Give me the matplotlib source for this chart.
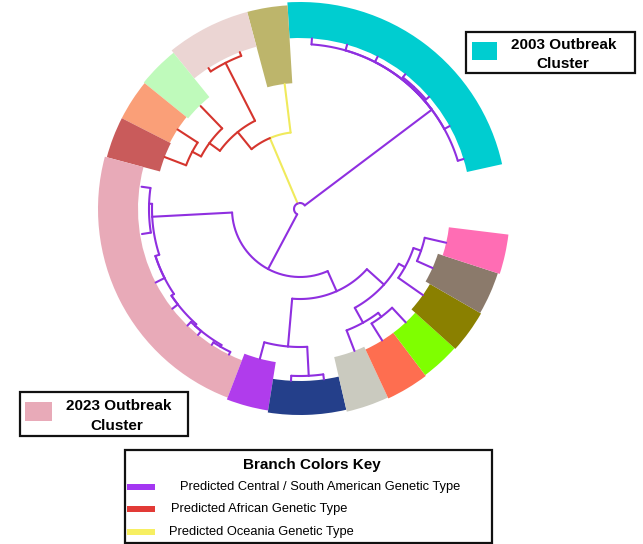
import numpy as np
import matplotlib
matplotlib.use("Agg")
import matplotlib.pyplot as plt
from matplotlib.patches import Rectangle

plt.rcParams['font.family'] = ['Liberation Sans', 'DejaVu Sans']

# ---------------- ring segments (angles in degrees, radii in px-units) -------------
ring_labels = ["2003 cluster", "Oceania", "A1", "A2", "A3", "A4", "2023 cluster",
               "S1", "S2", "S3", "S4", "S5", "S6", "S7", "S8"]
ring_start = [12.5, 93.5, 105, 129, 141, 153, 165, 249, 261, 283, 295, 307, 318, 330, 342]
ring_end = [93.5, 105, 129, 141, 153, 165, 249, 261, 283, 295, 307, 318, 330, 342, 353]
ring_inner = [171, 126, 168, 144, 146, 145, 162, 155, 172, 152, 155, 155, 150, 145, 150]
ring_outer = [207, 204, 204, 201, 200, 200, 202, 204, 206, 208, 209, 208, 209, 208, 210]
ring_colors = ["#00CDD0", "#BDB56B", "#EBD5D3", "#BFFABB", "#FA9F78", "#C95B5B", "#E8AAB8",
               "#B03CEC", "#243F8A", "#CACABF", "#FE6E50", "#7FFF00", "#8A8000", "#8B7A6B", "#FF6DB4"]

# ---------------- dendrogram nodes ----------------
node_names = ["root",
              "Nc", "c1", "c2", "c3", "Nc2", "c4", "c5", "c6", "c7",
              "X", "khaki", "Y", "LP", "lp1", "lp2", "Z", "lg", "W", "or", "dr",
              "A", "P0", "Pa", "pa1", "pa2", "P1", "pl1", "P2", "pl2", "P3", "pl3", "pl4",
              "P4", "pl5", "pl6",
              "B", "Cn", "pu", "Nv", "nv1", "nv2", "D", "E", "gr", "Hn", "tm", "lgn",
              "F", "ol", "J", "br", "hp"]
node_parents = [None,
                "root", "Nc", "Nc", "Nc", "Nc", "Nc2", "Nc2", "Nc", "Nc",
                "root", "X", "X", "Y", "LP", "LP", "Y", "Z", "Z", "W", "W",
                "root", "A", "P0", "Pa", "Pa", "P0", "P1", "P1", "P2", "P2", "P3", "P3",
                "P3", "P4", "P4",
                "A", "B", "Cn", "Cn", "Nv", "Nv", "B", "D", "E", "E", "Hn", "Hn",
                "D", "F", "F", "J", "J"]
node_angles = [113,
               37, 86, 74, 63, 47, 52, 41, 29, 17,
               113, 97, 129, 117, 123, 111, 144, 134, 152, 147, 159,
               242, 183, 178, 172, 189, 198, 207, 214, 218, 228, 226, 231,
               240, 237, 244,
               294, 265, 255, 273, 267, 278, 318, 299, 291, 307, 302, 313,
               331, 325, 341, 336, 347]
node_radii = [6,
              165, 171, 171, 171, 167, 171, 171, 171, 171,
              77, 126, 99, 164, 168, 168, 112, 143, 122, 146, 145,
              68, 148, 151, 160, 160, 152, 162, 155, 162, 157, 162, 162,
              159, 162, 162,
              90, 138, 155, 167, 172, 172, 113, 130, 152, 135, 155, 155,
              120, 150, 128, 145, 150]
node_types = ["CSA",
              "CSA", "CSA", "CSA", "CSA", "CSA", "CSA", "CSA", "CSA", "CSA",
              "OCE", "OCE", "AFR", "AFR", "AFR", "AFR", "AFR", "AFR", "AFR", "AFR", "AFR",
              "CSA", "CSA", "CSA", "CSA", "CSA", "CSA", "CSA", "CSA", "CSA", "CSA", "CSA", "CSA",
              "CSA", "CSA", "CSA",
              "CSA", "CSA", "CSA", "CSA", "CSA", "CSA", "CSA", "CSA", "CSA", "CSA", "CSA", "CSA",
              "CSA", "CSA", "CSA", "CSA", "CSA"]
branch_colors = {"CSA": "#8F2FE0", "AFR": "#D5352E", "OCE": "#F0EA5C"}

key_labels = ["Predicted Central / South American Genetic Type",
              "Predicted African Genetic Type",
              "Predicted Oceania Genetic Type"]
key_colors = ["#A437F2", "#E23A36", "#F7EF62"]

# ---------------- figure ----------------
W, H = 643, 544
fig = plt.figure(figsize=(W / 100, H / 100), dpi=100)
cx, cy = 300, 209          # centre in pixels (from top-left)
R = 220
ax = fig.add_axes([(cx - R) / W, (H - cy - R) / H, 2 * R / W, 2 * R / H], projection='polar')
ax.set_ylim(0, R)
ax.axis('off')

for s, e, ri, ro, c in zip(ring_start, ring_end, ring_inner, ring_outer, ring_colors):
    ax.bar(np.radians((s + e) / 2), ro - ri, width=np.radians(e - s), bottom=ri,
           color=c, edgecolor='none', align='center', zorder=2)

idx = {n: i for i, n in enumerate(node_names)}
lw = 1.5
for i, name in enumerate(node_names):
    p = node_parents[i]
    if p is None:
        continue
    j = idx[p]
    col = branch_colors[node_types[i]]
    a0, a1 = node_angles[j], node_angles[i]
    t = np.radians(np.linspace(a0, a1, max(2, int(abs(a1 - a0)) * 3)))
    ax.plot(t, np.full_like(t, node_radii[j]), color=col, lw=lw, zorder=3,
            solid_capstyle='round')
    ax.plot([np.radians(a1)] * 2, [node_radii[j], node_radii[i]], color=col, lw=lw,
            zorder=3, solid_capstyle='round')

# ---------------- overlay for boxes / legend ----------------
ov = fig.add_axes([0, 0, 1, 1])
ov.set_xlim(0, W)
ov.set_ylim(H, 0)
ov.axis('off')

# 2003 box
ov.add_patch(Rectangle((466, 32), 169, 41, facecolor='white', edgecolor='#111111', lw=1.6, zorder=5))
ov.add_patch(Rectangle((472, 42), 25, 18, facecolor=ring_colors[0], edgecolor='none', zorder=6))
ov.text(564, 45, "2003 Outbreak", ha='center', va='center', fontsize=11, fontweight='bold', zorder=7)
ov.text(563, 64, "Cluster", ha='center', va='center', fontsize=11, fontweight='bold', zorder=7)

# 2023 box
ov.add_patch(Rectangle((20, 392), 168, 44, facecolor='white', edgecolor='#111111', lw=1.6, zorder=5))
ov.add_patch(Rectangle((25, 402), 27, 19, facecolor=ring_colors[6], edgecolor='none', zorder=6))
ov.text(119, 406, "2023 Outbreak", ha='center', va='center', fontsize=11, fontweight='bold', zorder=7)
ov.text(117, 426, "Cluster", ha='center', va='center', fontsize=11, fontweight='bold', zorder=7)

# Branch colour key
ov.add_patch(Rectangle((125, 450), 367, 93, facecolor='white', edgecolor='#111111', lw=1.6, zorder=5))
ov.text(312, 465, "Branch Colors Key", ha='center', va='center', fontsize=11, fontweight='bold', zorder=7)
key_y = [487, 509, 532]
key_x = [180, 171, 169]
for lab, c, y, x in zip(key_labels, key_colors, key_y, key_x):
    ov.add_patch(Rectangle((127, y - 3), 28, 6, facecolor=c, edgecolor='none', zorder=6))
    ov.text(x, y, lab, ha='left', va='center', fontsize=9.3, zorder=7)

fig.savefig("out.png", dpi=100)
